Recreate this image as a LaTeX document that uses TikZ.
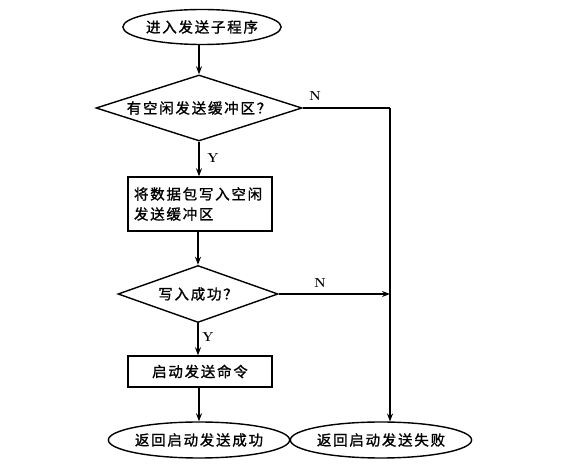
\documentclass[tikz,border=0pt]{standalone}
\usepackage{fontspec}
\newfontfamily\cjk[LetterSpace=12,FakeBold=1.2]{Noto Sans CJK SC}
\usetikzlibrary{shapes.geometric,arrows.meta,calc}
\begin{document}
\begin{tikzpicture}[x=1pt,y=-1pt,
  every node/.style={inner sep=0pt, font=\cjk\fontsize{14.5}{20}\selectfont},
  term/.style={ellipse, draw, line width=1.4pt},
  proc/.style={rectangle, draw, line width=1.4pt},
  dec/.style={diamond, draw, line width=1.4pt},
  flow/.style={line width=1.4pt, -{Stealth[length=8pt,width=6pt]}},
  line/.style={line width=1.4pt},
  yn/.style={font=\bfseries\fontsize{13}{13}\selectfont}]
\useasboundingbox (0,0) rectangle (566,470);
\node[term, minimum width=147pt, minimum height=35pt] (start) at (202,27) {进入发送子程序};
\node[dec, minimum width=206pt, minimum height=66pt, shape aspect=3.1] (d1) at (199,108) {有空闲发送缓冲区？};
\node[proc, minimum width=144pt, minimum height=54pt, text width=132pt, align=left] (b1) at (200,204) {将数据包写入空闲\\发送缓冲区};
\node[dec, minimum width=160pt, minimum height=57pt, shape aspect=2.8] (d2) at (198,294) {写入成功？};
\node[proc, minimum width=144pt, minimum height=31pt] (b2) at (200,371.5) {启动发送命令};
\node[term, minimum width=168pt, minimum height=36pt] (e1) at (199,440) {返回启动发送成功};
\node[term, minimum width=158pt, minimum height=36pt] (e2) at (381,440) {返回启动发送失败};
\coordinate (c1) at (390,108);
\coordinate (c2) at (390,294);
\coordinate (c3) at (390,421.5);
\node[yn] (n1) at (315,96) {N};
\node[yn] (y1) at (213,158) {Y};
\node[yn] (n2) at (320,283) {N};
\node[yn] (y2) at (208,337) {Y};
\draw[flow] (start.south -| d1.north) -- (d1.north);
\draw[flow] (d1.south) -- (d1.south |- b1.north);
\draw[flow] (b1.south -| d2.north) -- (d2.north);
\draw[flow] (d2.south) -- (d2.south |- b2.north);
\draw[flow] (b2.south -| e1.north) -- (e1.north);
\draw[line] (d1.east) -- (c1);
\draw[flow] (c1) -- (c3);
\draw[flow] (d2.east) -- (c2);
\end{tikzpicture}
\end{document}
